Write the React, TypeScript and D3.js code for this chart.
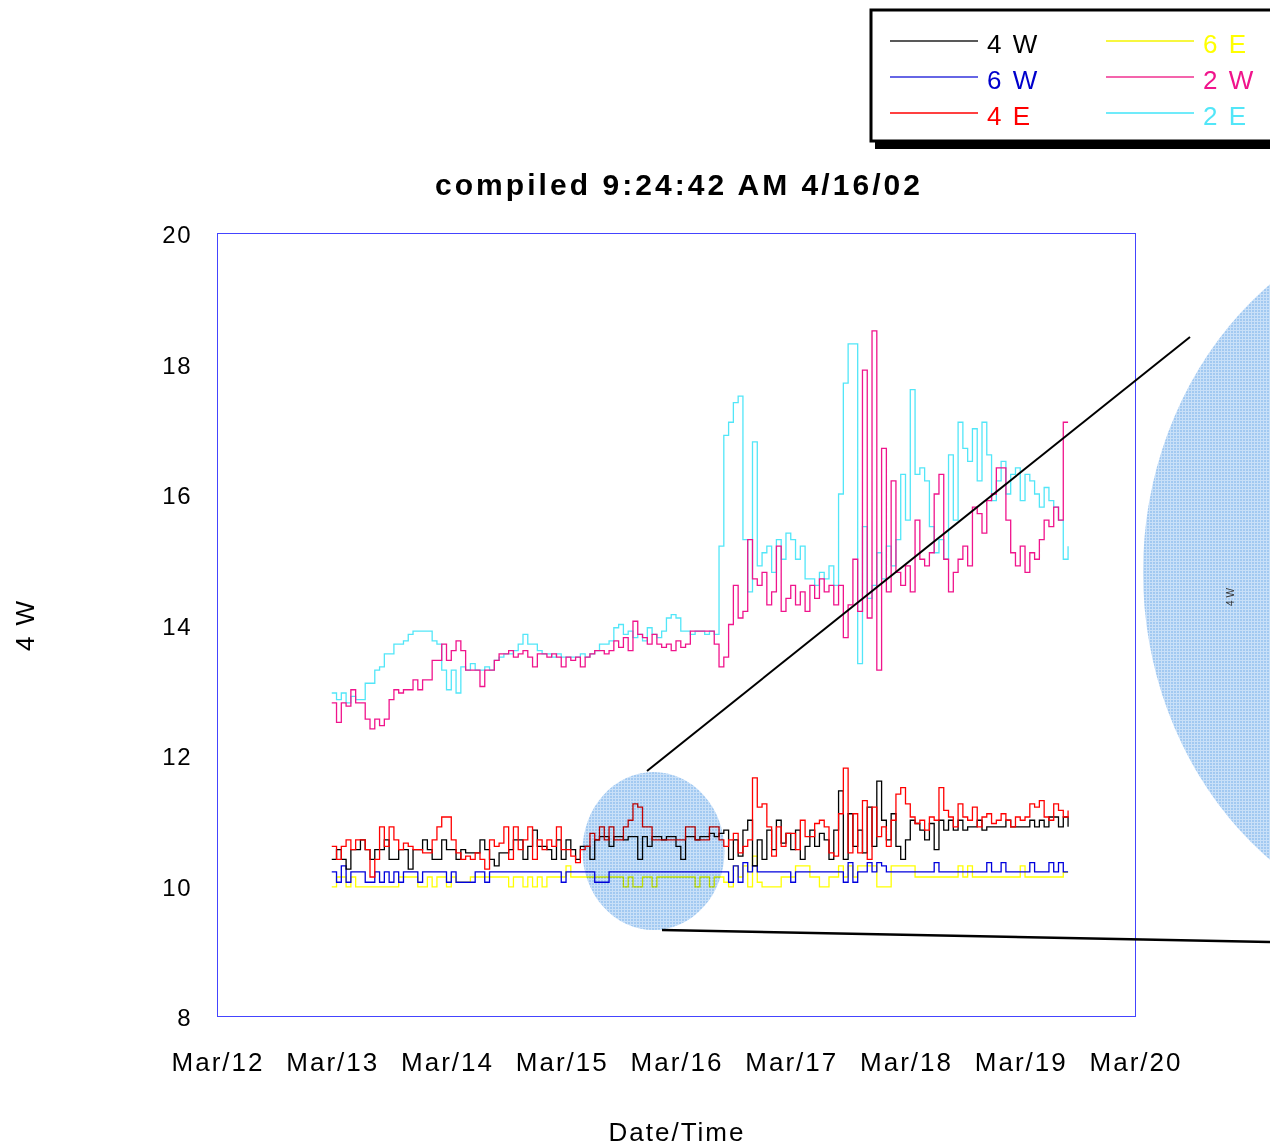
import * as d3 from "d3";

// hours after Mar/12 00:00 for the first reading, one reading per hour
const START_HOUR = 24;

const dayLabels = ["Mar/12", "Mar/13", "Mar/14", "Mar/15", "Mar/16", "Mar/17", "Mar/18", "Mar/19", "Mar/20"];
const yTicks = [8, 10, 12, 14, 16, 18, 20];

const w4 = [
  10.4, 10.55, 10.4, 10.25, 10.55, 10.55, 10.7, 10.55, 10.4, 10.55,
  10.55, 10.7, 10.4, 10.4, 10.55, 10.55, 10.25, 10.55, 10.55, 10.7,
  10.55, 10.4, 10.4, 10.7, 10.55, 10.55, 10.4, 10.55, 10.5, 10.5,
  10.5, 10.7, 10.55, 10.4, 10.3, 10.5, 10.5, 10.55, 10.7, 10.7,
  10.4, 10.6, 10.85, 10.6, 10.6, 10.55, 10.4, 10.7, 10.4, 10.7,
  10.55, 10.4, 10.6, 10.6, 10.4, 10.7, 10.75, 10.75, 10.6, 10.75,
  10.75, 10.7, 10.75, 10.75, 10.4, 10.75, 10.6, 10.75, 10.75, 10.7,
  10.75, 10.75, 10.6, 10.4, 10.75, 10.75, 10.7, 10.75, 10.75, 10.8,
  10.75, 10.8, 10.85, 10.4, 10.7, 10.45, 10.85, 11.0, 10.3, 10.7,
  10.4, 10.85, 10.55, 11.0, 10.65, 10.8, 10.55, 10.85, 10.4, 10.6,
  10.85, 10.6, 10.8, 10.7, 10.4, 10.85, 11.45, 10.4, 11.1, 10.6,
  10.85, 10.5, 11.2, 10.6, 11.6, 11.0, 10.7, 11.1, 10.6, 10.4,
  10.7, 11.0, 10.95, 10.85, 10.7, 10.95, 10.55, 11.0, 10.85, 11.0,
  10.85, 11.0, 10.85, 10.9, 10.9, 11.0, 10.85, 10.9, 10.9, 10.9,
  10.9, 11.0, 10.9, 10.9, 10.9, 10.9, 11.0, 10.9, 11.0, 10.9,
  11.05, 11.05, 10.9, 11.05, 10.9,
];

const w6 = [
  10.21, 10.05, 10.3, 10.05, 10.21, 10.21, 10.21, 10.05, 10.05, 10.21,
  10.05, 10.21, 10.05, 10.21, 10.05, 10.21, 10.21, 10.21, 10.05, 10.21,
  10.21, 10.21, 10.21, 10.21, 10.05, 10.21, 10.05, 10.05, 10.05, 10.05,
  10.21, 10.21, 10.05, 10.21, 10.21, 10.21, 10.21, 10.21, 10.21, 10.21,
  10.21, 10.21, 10.21, 10.21, 10.21, 10.21, 10.21, 10.21, 10.05, 10.21,
  10.21, 10.21, 10.21, 10.21, 10.21, 10.05, 10.05, 10.05, 10.21, 10.21,
  10.21, 10.21, 10.21, 10.21, 10.21, 10.21, 10.21, 10.21, 10.21, 10.21,
  10.21, 10.21, 10.21, 10.21, 10.21, 10.21, 10.21, 10.21, 10.21, 10.21,
  10.21, 10.21, 10.21, 10.05, 10.3, 10.05, 10.35, 10.21, 10.3, 10.21,
  10.21, 10.21, 10.21, 10.21, 10.21, 10.21, 10.05, 10.21, 10.21, 10.21,
  10.21, 10.21, 10.21, 10.21, 10.21, 10.21, 10.21, 10.05, 10.35, 10.05,
  10.21, 10.21, 10.35, 10.21, 10.35, 10.3, 10.21, 10.21, 10.21, 10.21,
  10.21, 10.21, 10.21, 10.21, 10.21, 10.21, 10.35, 10.21, 10.21, 10.21,
  10.21, 10.21, 10.21, 10.21, 10.21, 10.21, 10.21, 10.35, 10.21, 10.21,
  10.35, 10.21, 10.21, 10.21, 10.21, 10.21, 10.35, 10.21, 10.21, 10.21,
  10.35, 10.21, 10.35, 10.21, 10.21,
];

const e4 = [
  10.6, 10.4, 10.6, 10.7, 10.55, 10.7, 10.7, 10.55, 10.13, 10.4,
  10.9, 10.6, 10.9, 10.7, 10.55, 10.65, 10.6, 10.55, 10.55, 10.5,
  10.5, 10.7, 10.9, 11.05, 11.05, 10.7, 10.5, 10.4, 10.45, 10.4,
  10.5, 10.4, 10.25, 10.7, 10.6, 10.65, 10.9, 10.4, 10.9, 10.55,
  10.7, 10.9, 10.4, 10.7, 10.55, 10.7, 10.6, 10.9, 10.55, 10.55,
  10.45, 10.35, 10.55, 10.6, 10.8, 10.7, 10.9, 10.7, 10.9, 10.7,
  10.7, 10.9, 11.0, 11.25, 11.2, 10.9, 10.9, 10.7, 10.7, 10.7,
  10.7, 10.7, 10.7, 10.7, 10.9, 10.9, 10.7, 10.7, 10.7, 10.9,
  10.9, 10.7, 10.6, 10.7, 10.8, 10.5, 10.6, 10.7, 11.65, 11.2,
  11.25, 10.9, 10.45, 10.9, 10.6, 10.8, 10.8, 10.55, 11.0, 10.75,
  10.75, 10.95, 11.0, 10.9, 10.5, 10.45, 11.1, 11.8, 10.5, 11.1,
  10.5, 11.3, 10.4, 11.2, 10.75, 10.9, 10.6, 11.0, 11.4, 11.5,
  11.25, 11.05, 10.95, 11.0, 10.85, 11.05, 11.0, 11.5, 11.15, 11.05,
  10.9, 11.25, 11.05, 11.0, 11.2, 10.9, 11.05, 11.1, 10.95, 11.0,
  11.1, 11.0, 10.9, 11.05, 11.0, 11.05, 11.25, 11.2, 11.3, 11.05,
  11.0, 11.25, 11.15, 11.05, 11.15,
];

const e6 = [
  9.98, 10.13, 10.13, 9.98, 10.13, 9.98, 9.98, 9.98, 9.98, 9.98,
  9.98, 9.98, 9.98, 9.98, 10.13, 10.13, 10.13, 10.13, 9.98, 9.98,
  10.13, 9.98, 10.13, 10.13, 9.98, 10.13, 10.05, 10.05, 10.05, 10.13,
  10.13, 10.13, 10.13, 10.13, 10.13, 10.13, 10.13, 9.98, 10.13, 10.13,
  9.98, 10.13, 9.98, 10.13, 9.98, 10.13, 10.13, 10.13, 10.13, 10.3,
  10.13, 10.13, 10.13, 10.13, 10.13, 10.13, 10.13, 10.13, 10.13, 10.13,
  10.13, 9.98, 10.13, 9.98, 9.98, 10.13, 10.13, 9.98, 10.13, 10.13,
  10.13, 10.13, 10.13, 10.13, 10.13, 10.13, 9.98, 10.13, 10.13, 9.98,
  10.13, 10.13, 10.05, 9.98, 10.3, 10.13, 10.3, 9.98, 10.45, 10.05,
  9.98, 9.98, 9.98, 9.98, 10.13, 10.13, 10.13, 10.3, 10.3, 10.3,
  10.13, 10.13, 9.98, 9.98, 10.13, 10.13, 10.3, 10.13, 10.3, 10.13,
  10.3, 10.3, 10.3, 10.3, 9.98, 9.98, 9.98, 10.3, 10.3, 10.3,
  10.3, 10.3, 10.13, 10.13, 10.13, 10.13, 10.13, 10.13, 10.13, 10.13,
  10.13, 10.3, 10.13, 10.3, 10.13, 10.13, 10.13, 10.13, 10.13, 10.13,
  10.13, 10.13, 10.13, 10.13, 10.3, 10.13, 10.13, 10.13, 10.13, 10.13,
  10.13, 10.13, 10.13, 10.2, 10.2,
];

const w2 = [
  12.8, 12.5, 12.8, 12.75, 13.0, 12.8, 12.8, 12.55, 12.4, 12.55,
  12.45, 12.55, 12.85, 13.0, 12.95, 13.0, 13.0, 13.15, 13.0, 13.15,
  13.15, 13.45, 13.45, 13.7, 13.45, 13.6, 13.75, 13.6, 13.3, 13.3,
  13.3, 13.05, 13.3, 13.3, 13.45, 13.55, 13.55, 13.6, 13.5, 13.55,
  13.6, 13.5, 13.35, 13.55, 13.55, 13.5, 13.55, 13.5, 13.35, 13.5,
  13.45, 13.5, 13.35, 13.5, 13.55, 13.6, 13.6, 13.55, 13.6, 13.75,
  13.65, 13.8, 13.6, 14.05, 13.85, 13.8, 13.7, 13.85, 13.7, 13.65,
  13.7, 13.6, 13.75, 13.65, 13.7, 13.9, 13.9, 13.9, 13.9, 13.9,
  13.7, 13.35, 13.5, 14.0, 14.6, 14.1, 14.2, 15.3, 14.7, 14.6,
  14.8, 14.3, 14.5, 15.2, 14.2, 14.4, 14.6, 14.3, 14.5, 14.2,
  14.6, 14.4, 14.7, 14.5, 14.6, 14.3, 14.6, 13.8, 14.3, 15.0,
  14.2, 17.9, 14.1, 18.5, 13.3, 16.7, 14.5, 16.2, 14.8, 14.6,
  14.9, 14.5, 15.6, 15.0, 14.9, 15.1, 16.0, 16.3, 15.0, 14.5,
  14.8, 15.0, 15.2, 14.9, 15.8, 15.7, 15.4, 15.9, 16.0, 16.4,
  16.4, 15.6, 15.1, 14.9, 15.2, 14.8, 15.1, 15.0, 15.3, 15.6,
  15.5, 15.8, 15.6, 17.1, 17.1,
];

const e2 = [
  12.95, 12.85, 12.95, 12.8, 12.9, 12.85, 12.85, 13.1, 13.1, 13.3,
  13.35, 13.55, 13.55, 13.7, 13.7, 13.75, 13.85, 13.9, 13.9, 13.9,
  13.9, 13.75, 13.7, 13.3, 13.0, 13.3, 12.95, 13.35, 13.3, 13.4,
  13.3, 13.3, 13.35, 13.3, 13.45, 13.5, 13.55, 13.55, 13.6, 13.7,
  13.85, 13.7, 13.7, 13.6, 13.55, 13.55, 13.5, 13.55, 13.5, 13.5,
  13.5, 13.5, 13.55, 13.5, 13.55, 13.6, 13.7, 13.7, 13.75, 13.95,
  14.0, 13.85, 13.9, 13.8, 13.85, 13.75, 13.95, 13.85, 13.8, 13.9,
  14.1, 14.15, 14.1, 13.9, 13.9, 13.85, 13.9, 13.9, 13.85, 13.9,
  13.85, 15.2, 16.9, 17.1, 17.4, 17.5, 15.3, 14.5, 16.8, 14.9,
  15.1, 15.2, 14.8, 15.3, 15.0, 15.4, 15.3, 15.0, 15.2, 14.7,
  14.7, 14.6, 14.8, 14.7, 14.9, 14.6, 16.0, 17.7, 18.3, 18.3,
  13.4, 15.5, 14.4, 14.6, 15.1, 14.7, 15.2, 14.9, 15.3, 16.3,
  15.6, 17.6, 16.3, 16.4, 16.2, 15.5, 15.1, 15.3, 15.0, 16.6,
  15.6, 17.1, 16.7, 16.5, 17.0, 16.2, 17.1, 16.6, 15.9, 16.2,
  16.5, 16.0, 16.3, 16.4, 15.9, 16.3, 16.2, 16.0, 15.8, 16.1,
  15.9, 15.8, 15.6, 15.0, 15.2,
];

const seriesList = [
  { name: "4 W", values: w4, color: "#000000", legend: "#222222", text: "#000000" },
  { name: "6 W", values: w6, color: "#0000dd", legend: "#3333dd", text: "#0000cc" },
  { name: "4 E", values: e4, color: "#ff0000", legend: "#ff0000", text: "#ff0000" },
  { name: "6 E", values: e6, color: "#ffff00", legend: "#f4f400", text: "#ffff00" },
  { name: "2 W", values: w2, color: "#f0148c", legend: "#f03090", text: "#f0148c" },
  { name: "2 E", values: e2, color: "#52e6f8", legend: "#40e4f8", text: "#52e6f8" },
];

const FONT = "'Liberation Sans', Arial, sans-serif";

export default function App() {
  const left = 217, right = 1135, top = 233, bottom = 1016;
  const x = d3.scaleLinear().domain([0, 8 * 24]).range([left, right]);
  const y = d3.scaleLinear().domain([8, 20]).range([bottom, top]);

  const line = d3
    .line<number>()
    .x((_, i) => x(START_HOUR + i))
    .y((d) => y(d))
    .curve(d3.curveStepAfter);

  // upper pair first, lower ones on top as in the original
  const drawOrder = [5, 4, 3, 1, 0, 2];

  return (
    <svg
      width={1270}
      height={1146}
      style={{ position: "absolute", left: 0, top: 0, background: "#fff" }}
      fontFamily={FONT}
    >
      <defs>
        <pattern id="mesh" width={3} height={3} patternUnits="userSpaceOnUse">
          <rect width={3} height={3} fill="#a2c9f1" />
          <rect width={3} height={1} fill="#c9e0f8" />
          <rect width={1} height={3} fill="#c9e0f8" />
        </pattern>
      </defs>

      {/* legend */}
      <rect x={875} y={14} width={420} height={135} fill="#000" />
      <rect x={871} y={10} width={420} height={131} fill="#fff" stroke="#000" strokeWidth={3} />
      {seriesList.map((s, i) => {
        const col = Math.floor(i / 3);
        const row = i % 3;
        const lx = col === 0 ? 890 : 1106;
        const ly = 41 + row * 36;
        return (
          <g key={s.name}>
            <line x1={lx} x2={lx + 88} y1={ly} y2={ly} stroke={s.legend} strokeWidth={1.4} />
            <text x={lx + 97} y={ly + 12} fontSize={26} letterSpacing={2} fill={s.text}>
              {s.name}
            </text>
          </g>
        );
      })}

      {/* title */}
      <text x={435} y={195} fontSize={30} fontWeight="bold" textLength={485} lengthAdjust="spacing">
        compiled 9:24:42 AM 4/16/02
      </text>

      {/* plot frame */}
      <rect x={left + 0.5} y={top + 0.5} width={right - left} height={bottom - top} fill="none" stroke="#4444ff" strokeWidth={1} />

      {yTicks.map((t) => (
        <text key={t} x={192} y={y(t) + 10} fontSize={24} letterSpacing={1.5} textAnchor="end" fill="#000">
          {t}
        </text>
      ))}
      {dayLabels.map((d, i) => (
        <text key={d} x={x(i * 24) + 1} y={1071} fontSize={26} letterSpacing={2} textAnchor="middle" fill="#000">
          {d}
        </text>
      ))}
      <text x={677} y={1141} fontSize={26} letterSpacing={2} textAnchor="middle">
        Date/Time
      </text>
      <text transform="translate(34,625) rotate(-90)" fontSize={26} letterSpacing={2} textAnchor="middle">
        4 W
      </text>

      {/* series */}
      {drawOrder.map((k) => {
        const s = seriesList[k];
        return (
          <path key={s.name} d={line(s.values) ?? ""} fill="none" stroke={s.color} strokeWidth={1.3} />
        );
      })}

      {/* magnifier */}
      <ellipse cx={653.5} cy={851} rx={71} ry={79} fill="url(#mesh)" style={{ mixBlendMode: "multiply" }} />
      <line x1={647} y1={771} x2={1190} y2={337} stroke="#000" strokeWidth={2} />
      <line x1={662} y1={930} x2={1270} y2={942} stroke="#000" strokeWidth={2.5} />
      <ellipse cx={1471} cy={572} rx={328} ry={364} fill="url(#mesh)" />
      <text transform="translate(1234,597) rotate(-90)" fontSize={10} textAnchor="middle" fill="#333">
        4 W
      </text>
    </svg>
  );
}
